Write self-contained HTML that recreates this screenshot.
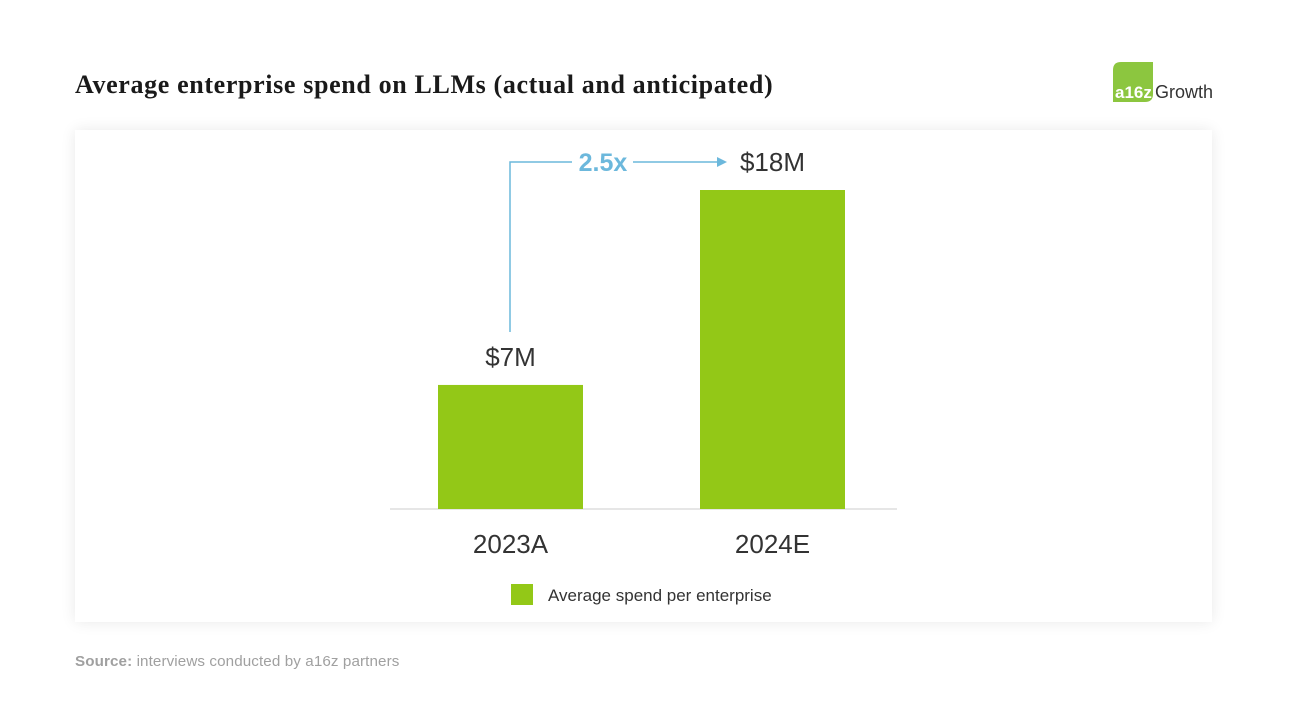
<!DOCTYPE html>
<html><head><meta charset="utf-8"><style>
body{margin:0;width:1292px;height:724px;background:#fff;font-family:"Liberation Sans",sans-serif;position:relative;overflow:hidden}
.title{position:absolute;left:75px;top:70px;font-family:"Liberation Serif",serif;font-weight:bold;font-size:26px;color:#1a1a1a;letter-spacing:0.64px}
.card{position:absolute;left:75px;top:130px;width:1137px;height:492px;background:#fff;box-shadow:0 0 14px rgba(0,0,0,0.09)}
.src{position:absolute;left:75px;top:653px;font-size:15.2px;color:#a0a0a0;letter-spacing:0.1px}
.logo{position:absolute;left:1113px;top:62px}
</style></head><body>
<div class="title">Average enterprise spend on LLMs (actual and anticipated)</div>
<div class="logo">
<svg width="110" height="42"><path d="M0 8 Q0 0 8 0 H40 V32 Q40 40 32 40 H0 Z" fill="#8cc63f"/><text x="2" y="36" font-size="17" font-weight="bold" fill="#fff" font-family="Liberation Sans">a16z</text><text x="42" y="36" font-size="18" fill="#333" font-family="Liberation Sans">Growth</text></svg>
</div>
<div class="card"></div>
<svg id="chart" width="1292" height="724" style="position:absolute;left:0;top:0"></svg>
<div class="src"><b>Source:</b> interviews conducted by a16z partners</div>
<script>
const categories=["2023A","2024E"];
const values=[7,18];
const valueLabels=["$7M","$18M"];
const multiplierLabel="2.5x";
const seriesName="Average spend per enterprise";
const NS="http://www.w3.org/2000/svg";
const svg=document.getElementById('chart');
const base=509, pxPer=319/18;
const y=v=>base-v*pxPer;
const x=i=>438+i*262;
const bw=145;
function mk(t,a,txt){const e=document.createElementNS(NS,t);for(const k in a)e.setAttribute(k,a[k]);if(txt!=null)e.textContent=txt;svg.appendChild(e);return e;}
let ax=mk('line',{x1:390,x2:897,y1:base,y2:base,stroke:'#ccc','stroke-width':1});


categories.forEach((c,i)=>{
 let r=mk('rect',{x:x(i),y:y(values[i]),width:bw,height:base-y(values[i]),fill:'#93c817'});
 
 
 let t=mk('text',{x:x(i)+bw/2,y:base+44,'text-anchor':'middle','font-size':26,fill:'#333'},c);
 
 
 let v=mk('text',{x:x(i)+bw/2,y:y(values[i])-19,'text-anchor':'middle','font-size':26,fill:'#333'},valueLabels[i]);
 
 
});
const ax0=510, ay=162, ybot=y(values[0])-53;
let p=mk('path',{d:`M${ax0} ${ybot} V${ay} H572 M633 ${ay} H719`,stroke:'#6cb8dc','stroke-width':1.5,fill:'none'});


let h=mk('path',{d:`M717 ${ay-5} L727 ${ay} L717 ${ay+5} Z`,fill:'#6cb8dc'});


let m=mk('text',{x:603,y:ay+9,'text-anchor':'middle','font-size':25,'font-weight':'bold',fill:'#6cb8dc'},multiplierLabel);


let ls=mk('rect',{x:511,y:584,width:22,height:21,fill:'#93c817'});


let lt=mk('text',{x:548,y:601,'font-size':17,fill:'#333'},seriesName);


</script>
</body></html>
